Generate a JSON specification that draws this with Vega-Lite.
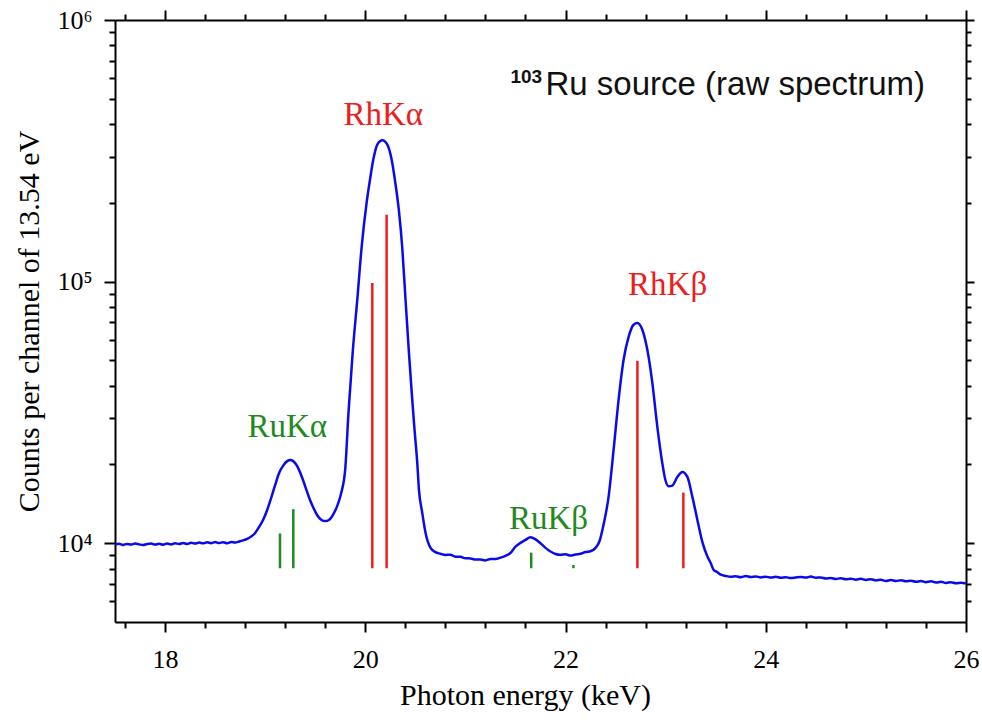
{
  "$schema": "https://vega.github.io/schema/vega-lite/v6.json",
  "width": 851,
  "height": 602,
  "autosize": "none",
  "padding": {"left": 115, "top": 20, "right": 16, "bottom": 101},
  "background": "white",
  "config": {
    "view": {"stroke": null},
    "axis": {
      "grid": false,
      "labelFont": "Liberation Serif",
      "labelFontSize": 26,
      "labelColor": "#000",
      "titleFont": "Liberation Serif",
      "titleFontSize": 30,
      "titleFontWeight": "normal",
      "titleColor": "#000",
      "domainColor": "#000",
      "domainWidth": 2,
      "tickColor": "#000",
      "tickWidth": 2,
      "labelFlush": false,
      "labelOverlap": false,
      "labelBound": false
    }
  },
  "datasets": {
    "spec": [
      {"E":17.50,"c":9880},{"E":17.54,"c":9950},{"E":17.58,"c":9850},{"E":17.62,"c":9940},{"E":17.66,"c":9880},
      {"E":17.70,"c":9970},{"E":17.74,"c":9900},{"E":17.78,"c":9840},{"E":17.82,"c":9930},{"E":17.86,"c":9980},
      {"E":17.90,"c":9880},{"E":17.94,"c":9950},{"E":17.98,"c":9870},{"E":18.02,"c":9970},{"E":18.06,"c":9900},
      {"E":18.10,"c":10000},{"E":18.14,"c":9930},{"E":18.18,"c":10020},{"E":18.22,"c":9940},{"E":18.26,"c":10050},
      {"E":18.30,"c":9970},{"E":18.34,"c":10060},{"E":18.38,"c":9990},{"E":18.42,"c":10080},{"E":18.46,"c":10010},
      {"E":18.50,"c":10100},{"E":18.54,"c":10020},{"E":18.58,"c":10090},{"E":18.62,"c":10000},{"E":18.66,"c":10110},
      {"E":18.70,"c":10060},{"E":18.74,"c":10150},{"E":18.78,"c":10260},{"E":18.82,"c":10400},{"E":18.86,"c":10620},
      {"E":18.90,"c":10950},{"E":18.94,"c":11550},{"E":18.98,"c":12300},{"E":19.02,"c":13400},{"E":19.06,"c":14900},
      {"E":19.10,"c":16700},{"E":19.14,"c":18600},{"E":19.18,"c":19800},{"E":19.22,"c":20600},{"E":19.25,"c":20800},
      {"E":19.28,"c":20600},{"E":19.32,"c":19700},{"E":19.36,"c":18200},{"E":19.40,"c":16500},{"E":19.44,"c":14900},
      {"E":19.48,"c":13700},{"E":19.52,"c":12800},{"E":19.56,"c":12300},{"E":19.60,"c":12150},{"E":19.64,"c":12300},
      {"E":19.68,"c":12900},{"E":19.72,"c":13900},{"E":19.76,"c":15600},{"E":19.80,"c":19300},{"E":19.833,"c":32000},
      {"E":19.876,"c":54880},{"E":19.92,"c":85270},{"E":19.963,"c":135000},{"E":20.013,"c":200000},{"E":20.047,"c":245400},
      {"E":20.08,"c":292700},{"E":20.12,"c":334000},{"E":20.17,"c":347000},{"E":20.22,"c":334000},{"E":20.263,"c":292700},
      {"E":20.299,"c":240000},{"E":20.335,"c":188000},{"E":20.369,"c":135000},{"E":20.402,"c":85270},{"E":20.434,"c":54880},
      {"E":20.469,"c":35340},{"E":20.492,"c":27130},{"E":20.519,"c":20290},{"E":20.536,"c":15990},{"E":20.569,"c":13060},
      {"E":20.602,"c":10950},{"E":20.652,"c":9594},{"E":20.70,"c":9250},{"E":20.75,"c":9120},{"E":20.80,"c":9020},
      {"E":20.85,"c":9040},{"E":20.90,"c":8880},{"E":20.95,"c":8870},{"E":21.00,"c":8760},{"E":21.05,"c":8750},
      {"E":21.10,"c":8660},{"E":21.15,"c":8660},{"E":21.20,"c":8600},{"E":21.25,"c":8710},{"E":21.30,"c":8700},
      {"E":21.35,"c":8810},{"E":21.40,"c":8950},{"E":21.45,"c":9180},{"E":21.50,"c":9700},{"E":21.55,"c":10030},
      {"E":21.60,"c":10300},{"E":21.65,"c":10540},{"E":21.70,"c":10350},{"E":21.75,"c":10000},{"E":21.80,"c":9600},
      {"E":21.85,"c":9300},{"E":21.90,"c":9100},{"E":21.95,"c":9030},{"E":22.00,"c":9070},{"E":22.05,"c":8970},
      {"E":22.10,"c":9060},{"E":22.15,"c":9110},{"E":22.20,"c":9260},{"E":22.25,"c":9320},{"E":22.30,"c":9600},
      {"E":22.34,"c":10200},{"E":22.38,"c":11800},{"E":22.43,"c":15040},{"E":22.48,"c":22750},{"E":22.53,"c":35340},
      {"E":22.58,"c":50250},{"E":22.63,"c":61540},{"E":22.68,"c":68430},{"E":22.717,"c":69450},{"E":22.767,"c":65460},
      {"E":22.817,"c":54880},{"E":22.867,"c":41050},{"E":22.917,"c":27860},{"E":22.967,"c":20200},{"E":22.995,"c":17600},
      {"E":23.03,"c":16500},{"E":23.067,"c":16600},{"E":23.117,"c":17930},{"E":23.167,"c":18740},{"E":23.217,"c":17930},
      {"E":23.267,"c":15040},
      {"E":23.317,"c":12280},{"E":23.367,"c":10100},{"E":23.417,"c":8900},{"E":23.45,"c":8400},{"E":23.48,"c":7900},
      {"E":23.51,"c":7780},{"E":23.55,"c":7580},{"E":23.60,"c":7500},{"E":23.65,"c":7450},{"E":23.70,"c":7480},
      {"E":23.75,"c":7420},{"E":23.80,"c":7490},{"E":23.85,"c":7430},{"E":23.90,"c":7470},{"E":23.95,"c":7400},
      {"E":24.00,"c":7450},{"E":24.05,"c":7390},{"E":24.10,"c":7440},{"E":24.15,"c":7380},{"E":24.20,"c":7420},
      {"E":24.25,"c":7360},{"E":24.30,"c":7400},{"E":24.35,"c":7430},{"E":24.40,"c":7390},{"E":24.45,"c":7460},
      {"E":24.50,"c":7380},{"E":24.55,"c":7400},{"E":24.60,"c":7330},{"E":24.65,"c":7360},{"E":24.70,"c":7300},
      {"E":24.75,"c":7350},{"E":24.80,"c":7280},{"E":24.85,"c":7320},{"E":24.90,"c":7260},{"E":24.95,"c":7310},
      {"E":25.00,"c":7240},{"E":25.05,"c":7290},{"E":25.10,"c":7210},{"E":25.15,"c":7250},{"E":25.20,"c":7170},
      {"E":25.25,"c":7230},{"E":25.30,"c":7170},{"E":25.35,"c":7220},{"E":25.40,"c":7150},{"E":25.45,"c":7190},
      {"E":25.50,"c":7120},{"E":25.55,"c":7170},{"E":25.60,"c":7100},{"E":25.65,"c":7150},{"E":25.70,"c":7080},
      {"E":25.75,"c":7120},{"E":25.80,"c":7050},{"E":25.85,"c":7100},{"E":25.90,"c":7030},{"E":25.95,"c":7070},
      {"E":26.00,"c":7020}
    ],
    "lines": [
      {"E":19.148,"lo":8025,"hi":10900,"el":"Ru"},
      {"E":19.281,"lo":8025,"hi":13500,"el":"Ru"},
      {"E":20.070,"lo":8025,"hi":98700,"el":"Rh"},
      {"E":20.213,"lo":8025,"hi":180300,"el":"Rh"},
      {"E":21.657,"lo":8025,"hi":9205,"el":"Ru"},
      {"E":22.079,"lo":8025,"hi":8260,"el":"Ru"},
      {"E":22.718,"lo":8025,"hi":49810,"el":"Rh"},
      {"E":23.177,"lo":8025,"hi":15620,"el":"Rh"}
    ],
    "labels": [
      {"E":20.18,"c":398000,"t":"RhKα","el":"Rh"},
      {"E":19.22,"c":25500,"t":"RuKα","el":"Ru"},
      {"E":21.83,"c":11300,"t":"RuKβ","el":"Ru"},
      {"E":23.02,"c":89100,"t":"RhKβ","el":"Rh"}
    ],
    "note": [
      {"E":21.80,"c":518800,"t":"Ru source (raw spectrum)"}
    ],
    "sup": [
      {"E":21.45,"c":576800,"t":"103"}
    ]
  },
  "resolve": {"axis": {"x": "independent", "y": "independent"}},
  "layer": [
    {
      "data": {"name": "spec"},
      "mark": {"type": "line", "color": "#0a0aeb", "strokeWidth": 2.5, "interpolate": "monotone", "clip": true},
      "encoding": {
        "x": {
          "field": "E", "type": "quantitative",
          "scale": {"domain": [17.5, 26], "nice": false, "zero": false},
          "axis": {
            "orient": "bottom",
            "title": "Photon energy (keV)",
            "titleX": 410,
            "values": [17.6,18,18.4,18.8,19.2,19.6,20,20.4,20.8,21.2,21.6,22,22.4,22.8,23.2,23.6,24,24.4,24.8,25.2,25.6,26],
            "labelExpr": "abs(datum.value/2 - round(datum.value/2)) < 0.01 ? format(datum.value, 'd') : ''",
            "tickSize": {"condition": {"test": "abs(datum.value/2 - round(datum.value/2)) < 0.01", "value": 10}, "value": 6},
            "labelPadding": 14,
            "titlePadding": 8
          }
        },
        "y": {
          "field": "c", "type": "quantitative",
          "scale": {"type": "log", "domain": [5000, 1000000], "nice": false},
          "axis": {
            "orient": "left",
            "title": "Counts per channel of 13.54 eV",
            "values": [6000,7000,8000,9000,10000,20000,30000,40000,50000,60000,70000,80000,90000,100000,200000,300000,400000,500000,600000,700000,800000,900000,1000000],
            "labelExpr": "datum.value == 10000 ? '10⁴' : datum.value == 100000 ? '10⁵' : datum.value == 1000000 ? '10⁶' : ''",
            "tickSize": {"condition": {"test": "datum.value == 10000 || datum.value == 100000 || datum.value == 1000000", "value": 11}, "value": 6},
            "labelPadding": 12,
            "titlePadding": 12
          }
        }
      }
    },
    {
      "data": {"name": "lines"},
      "mark": {"type": "rule", "strokeWidth": 2.5},
      "encoding": {
        "x": {
          "field": "E", "type": "quantitative",
          "axis": {
            "orient": "top", "title": null, "labels": false,
            "values": [17.6,18,18.4,18.8,19.2,19.6,20,20.4,20.8,21.2,21.6,22,22.4,22.8,23.2,23.6,24,24.4,24.8,25.2,25.6,26],
            "tickSize": {"condition": {"test": "abs(datum.value/2 - round(datum.value/2)) < 0.01", "value": 10}, "value": 6}
          }
        },
        "y": {
          "field": "lo", "type": "quantitative",
          "axis": {
            "orient": "right", "title": null, "labels": false,
            "values": [6000,7000,8000,9000,10000,20000,30000,40000,50000,60000,70000,80000,90000,100000,200000,300000,400000,500000,600000,700000,800000,900000,1000000],
            "tickSize": {"condition": {"test": "datum.value == 10000 || datum.value == 100000 || datum.value == 1000000", "value": 8}, "value": 5}
          }
        },
        "y2": {"field": "hi"},
        "color": {"field": "el", "type": "nominal", "scale": {"domain": ["Rh", "Ru"], "range": ["#ee1d1d", "#1f8a1f"]}, "legend": null}
      }
    },
    {
      "data": {"name": "labels"},
      "mark": {"type": "text", "font": "Liberation Serif", "fontSize": 33, "align": "center", "baseline": "alphabetic"},
      "encoding": {
        "x": {"field": "E", "type": "quantitative", "axis": null},
        "y": {"field": "c", "type": "quantitative", "axis": null},
        "text": {"field": "t"},
        "color": {"field": "el", "type": "nominal", "legend": null}
      }
    },
    {
      "data": {"name": "note"},
      "mark": {"type": "text", "font": "Liberation Sans", "fontSize": 33, "align": "left", "baseline": "alphabetic", "color": "#111"},
      "encoding": {
        "x": {"field": "E", "type": "quantitative", "axis": null},
        "y": {"field": "c", "type": "quantitative", "axis": null},
        "text": {"field": "t"}
      }
    },
    {
      "data": {"name": "sup"},
      "mark": {"type": "text", "font": "Liberation Sans", "fontSize": 19, "fontWeight": "bold", "align": "left", "baseline": "alphabetic", "color": "#111"},
      "encoding": {
        "x": {"field": "E", "type": "quantitative", "axis": null},
        "y": {"field": "c", "type": "quantitative", "axis": null},
        "text": {"field": "t"}
      }
    }
  ]
}
